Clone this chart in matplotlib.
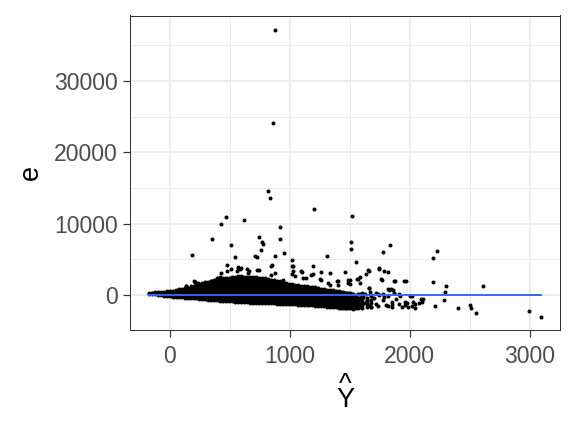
import numpy as np
import matplotlib
matplotlib.use("Agg")
import matplotlib.pyplot as plt
from matplotlib.ticker import MultipleLocator

plt.rcParams['font.family'] = ['Liberation Sans', 'DejaVu Sans']

# ---- dense band of residuals (columns of fitted value, residuals)
band_x = [-172, -150, -126, -101, -76, -51, -27, -2, 23, 48, 73, 98, 122, 147, 172, 197,
          221, 246, 271, 296, 321, 345, 370, 395, 420, 445, 469, 494, 519, 544, 569, 593,
          618, 643, 668, 692, 717, 742, 767, 792, 816, 841, 866, 891, 916, 940, 965, 990,
          1015, 1040, 1064, 1089, 1114, 1139, 1163, 1188, 1213, 1238, 1263, 1288, 1312, 1337,
          1362, 1387, 1411, 1426, 1441, 1456, 1471, 1486, 1501, 1516, 1530, 1548, 1565, 1583,
          1600, 1640, 1679]
band_e = [
    [160, 260], [120, 230, 300], [60, 180, 320], [10, 150, 340], [-60, 120, 310, 420],
    [-120, 80, 260, 440], [-170, 40, 240, 460], [-220, 0, 210, 400, 520],
    [-270, -60, 150, 370, 560], [-300, -90, 130, 330, 600], [-330, -120, 100, 320, 560, 760],
    [-360, -150, 80, 300, 520, 800], [-390, -170, 60, 290, 540, 780, 900],
    [-420, -200, 40, 280, 520, 760, 1000], [-450, -220, 20, 260, 500, 740, 980, 1180],
    [-490, -250, 0, 250, 500, 760, 1000, 1250],
    [-520, -280, -20, 240, 500, 760, 1020, 1300, 1480],
    [-560, -300, -40, 220, 480, 740, 1000, 1260, 1520],
    [-600, -330, -60, 210, 480, 750, 1020, 1290, 1560, 1700],
    [-630, -360, -80, 200, 470, 740, 1010, 1280, 1550, 1780],
    [-670, -390, -110, 170, 450, 730, 1010, 1290, 1570, 1850],
    [-710, -420, -140, 150, 430, 720, 1000, 1290, 1580, 1870, 1980],
    [-750, -460, -170, 120, 410, 700, 990, 1280, 1570, 1860, 2080],
    [-790, -500, -200, 100, 400, 700, 1000, 1300, 1600, 1900, 2150],
    [-830, -530, -230, 70, 370, 670, 970, 1270, 1570, 1870, 2170, 2300],
    [-860, -560, -260, 40, 340, 640, 940, 1240, 1540, 1840, 2140, 2380],
    [-880, -580, -280, 20, 320, 620, 920, 1220, 1520, 1820, 2120, 2420],
    [-900, -600, -300, 0, 300, 600, 900, 1200, 1500, 1800, 2100, 2400],
    [-930, -630, -330, -30, 270, 570, 870, 1170, 1470, 1770, 2070, 2370, 2520],
    [-960, -660, -360, -60, 240, 540, 840, 1140, 1440, 1740, 2040, 2340, 2560],
    [-990, -690, -390, -90, 210, 510, 810, 1110, 1410, 1710, 2010, 2310, 2600],
    [-1010, -710, -410, -110, 190, 490, 790, 1090, 1390, 1690, 1990, 2290, 2590],
    [-1040, -740, -440, -140, 160, 460, 760, 1060, 1360, 1660, 1960, 2260, 2560],
    [-1060, -760, -460, -160, 140, 440, 740, 1040, 1340, 1640, 1940, 2240, 2540],
    [-1090, -790, -490, -190, 110, 410, 710, 1010, 1310, 1610, 1910, 2210, 2500],
    [-1110, -810, -510, -210, 90, 390, 690, 990, 1290, 1590, 1890, 2190, 2480],
    [-1140, -840, -540, -240, 60, 360, 660, 960, 1260, 1560, 1860, 2160, 2440],
    [-1160, -860, -560, -260, 40, 340, 640, 940, 1240, 1540, 1840, 2140, 2380],
    [-1170, -870, -570, -270, 30, 330, 630, 930, 1230, 1530, 1830, 2130, 2330],
    [-1180, -880, -580, -280, 20, 320, 620, 920, 1220, 1520, 1820, 2100, 2280],
    [-1200, -900, -600, -300, 0, 300, 600, 900, 1200, 1500, 1800, 2100, 2220],
    [-1210, -910, -610, -310, -10, 290, 590, 890, 1190, 1490, 1790, 2080],
    [-1220, -920, -620, -320, -20, 280, 580, 880, 1180, 1480, 1780, 2020],
    [-1240, -940, -640, -340, -40, 260, 560, 860, 1160, 1460, 1760, 1960],
    [-1250, -950, -650, -350, -50, 250, 550, 850, 1150, 1450, 1750, 1860],
    [-1270, -970, -670, -370, -70, 230, 530, 830, 1130, 1430, 1720],
    [-1290, -990, -690, -390, -90, 210, 510, 810, 1110, 1410, 1640],
    [-1310, -1010, -710, -410, -110, 190, 490, 790, 1090, 1390, 1560],
    [-1340, -1040, -740, -440, -140, 160, 460, 760, 1060, 1360, 1460],
    [-1360, -1060, -760, -460, -160, 140, 440, 740, 1040, 1340],
    [-1390, -1090, -790, -490, -190, 110, 410, 710, 1010, 1300],
    [-1410, -1110, -810, -510, -210, 90, 390, 690, 990, 1260],
    [-1440, -1140, -840, -540, -240, 60, 360, 660, 960, 1220],
    [-1460, -1160, -860, -560, -260, 40, 340, 640, 940, 1180],
    [-1490, -1190, -890, -590, -290, 10, 310, 610, 910, 1120],
    [-1510, -1210, -910, -610, -310, -10, 290, 590, 890, 1080],
    [-1540, -1240, -940, -640, -340, -40, 260, 560, 860, 1020],
    [-1570, -1260, -960, -660, -360, -60, 240, 540, 840, 960],
    [-1600, -1290, -990, -690, -390, -90, 210, 510, 810],
    [-1630, -1310, -1010, -710, -410, -110, 190, 490, 760],
    [-1670, -1340, -1040, -740, -440, -140, 160, 460, 700],
    [-1700, -1380, -1060, -760, -460, -160, 140, 440, 660],
    [-1740, -1420, -1090, -790, -490, -190, 110, 410, 600],
    [-1780, -1450, -1120, -810, -510, -210, 90, 390, 560],
    [-1820, -1490, -1160, -840, -540, -240, 60, 360, 500],
    [-1840, -1500, -1170, -850, -550, -250, 50, 340],
    [-1860, -1520, -1190, -860, -560, -260, 40, 330],
    [-1870, -1540, -1200, -870, -570, -270, 30, 310],
    [-1890, -1550, -1210, -880, -580, -280, 20, 300],
    [-1900, -1560, -1220, -890, -590, -290, 10, 280],
    [-1920, -1580, -1240, -900, -600, -300, 0, 250],
    [-1900, -1550, -1250, -900, -550, -200, 150],
    [-1950, -1500, -1100, -700, -350, 50],
    [-1850, -1400, -1000, -650, -300, 0],
    [-1900, -1500, -1150, -800, -400, 100],
    [-1750, -1350, -800, -450, 50],
    [-1840, -1450, -1000, -600, -200],
    [-1700, -1300, -900, -400],
    [-1760, -1200, -700, -100],
]

# ---- individual scattered residuals (fitted value, residual)
scatter_x = [877, 858, 821, 833, 1205, 1521, 469, 619, 428, 917, 349, 744, 766, 778, 917,
             511, 758, 952, 181, 544, 708, 722, 880, 1310, 1514, 1506, 1833, 1774, 2228, 2194,
             1552, 1020, 1028, 844, 472, 568, 855, 1021, 1194,
             1747, 1785, 1819, 1660, 1633, 1458, 1333, 1394, 1489, 1564, 1583, 1768, 1878, 1969,
             1663, 1825, 1861, 2194, 2305, 2297, 2614, 2286, 2214, 2402, 2502, 2508, 2550, 2997,
             3091, 2108, 2022, 2024, 2044, 1989, 1939, 1960, 1916, 1850, 1856, 1747, 1780, 1908,
             2005, 2097,
             508, 564, 591, 644, 661, 741, 874, 133, 200, 235, 263, 389, 417, 430, 472, 1028,
             1042, 1104, 1138, 1189, 1258, 1250, 1319, 1402, 722, 847, 943, 1021, 1095, 1583,
             1500, 1500, 1106, 1176, 1260, 1333, 1402, 130, 208, 319, 402, 556, 583, 653, 528,
             1485, 1568, 1652, 1658, 1742, 1760, 1867, 1956, 1819, 1847,
             1620, 1659, 1679, 1719, 1739, 1778, 1798, 1818, 1848, 1887, 1912, 1957, 1977, 2016,
             2046, 2076, 2106, 1640, 1699, 1719, 1669, 1610, 1600, 1630, 1679, 1739, 1788, 1818,
             1868]
scatter_e = [37210, 24050, 14560, 13540, 12000, 11060, 10920, 10500, 9900, 9480, 7800, 8120,
             7420, 7070, 7840, 7050, 6350, 5840, 5560, 5320, 5400, 5300, 5370, 5420, 7380, 6440,
             6960, 5980, 6120, 5090, 4620, 4830, 4030, 4030, 4130, 3850, 4130, 3990, 3990,
             3600, 3270, 3130, 3400, 2890, 3130, 3040, 1870, 2010, 2240, 1630, 2060, 1870, 1870,
             980, 700, 700, 1820, 1220, 380, 1220, -750, -1590, -1820, -1500, -1870, -2570,
             -2240, -3130, -600, -140, -1020, -1910, -1720, -1770, -1080, -140, -1720, -1360,
             -90, 140, 70, -170, -530,
             3570, 3810, 3810, 3670, 3330, 3470, 3110, 1230, 1930, 1710, 1430, 2410, 2550, 3110,
             3330, 3330, 2630, 3190, 2410, 2870, 3190, 2170, 1710, 1930, 3460, 2830, 2130, 2910,
             3290, 2450, 2070, 1510, 2350, 2830, 2130, 1430, 1330, 1190, 1790, 1510, 2270, 3290,
             3670, 3050, 2130,
             1710, 2270, 3470, 1010, 3710, 2170, 1930, 1930, 770, 770,
             -1100, -1500, -1750, -1300, -1650, -800, -1450, -1600, -1050, -650, -1300, -1450,
             -1100, -1600, -1300, -1200, -1050, -700, -400, 300, 450, -300, 200, 100, -200, 50,
             -350, -200, 250]

# ---- linear smooth of residuals on fitted values
fit_intercept = 0.0
fit_slope = 0.0

x_ticks = [0, 1000, 2000, 3000]
y_ticks = [0, 10000, 20000, 30000]

# assemble
xs = []
es = []
for bx, col in zip(band_x, band_e):
    for v in col:
        xs.append(bx)
        es.append(v)
xs += scatter_x
es += scatter_e
xs = np.array(xs, dtype=float)
es = np.array(es, dtype=float)

fig = plt.figure(figsize=(8, 6), dpi=72)
ax = fig.add_axes([130 / 576, 1 - 330 / 432, 430 / 576, 314.5 / 432])

ax.set_xlim(-333, 3253)
ax.set_ylim(-4950, 39200)

ax.xaxis.set_minor_locator(MultipleLocator(500))
ax.yaxis.set_minor_locator(MultipleLocator(5000))
ax.set_xticks(x_ticks)
ax.set_yticks(y_ticks)
ax.set_xticklabels([str(t) for t in x_ticks])
ax.set_yticklabels([str(t) for t in y_ticks])

ax.grid(which='major', color='#EBEBEB', linewidth=1.9)
ax.grid(which='minor', color='#EBEBEB', linewidth=0.95)
ax.set_axisbelow(True)

ax.scatter(xs, es, s=16, c='black', linewidths=0, zorder=3)

xl = np.array([xs.min(), xs.max()])
ax.plot(xl, fit_intercept + fit_slope * xl, color='#3366FF', linewidth=1.9, zorder=4)

for sp in ax.spines.values():
    sp.set_color('#333333')
    sp.set_linewidth(1.0)

ax.tick_params(which='major', length=6.7, width=1.2, color='#333333',
               labelcolor='#4D4D4D', labelsize=23)
ax.tick_params(axis='y', pad=5.5)
ax.tick_params(axis='x', pad=8.5)
ax.tick_params(which='minor', length=0)

ax.set_xlabel('^\nY', fontsize=27, color='black', labelpad=4, linespacing=0.45)
ax.set_ylabel('e', fontsize=27, color='black', labelpad=10)

fig.savefig('out.png', dpi=72, facecolor='white')
